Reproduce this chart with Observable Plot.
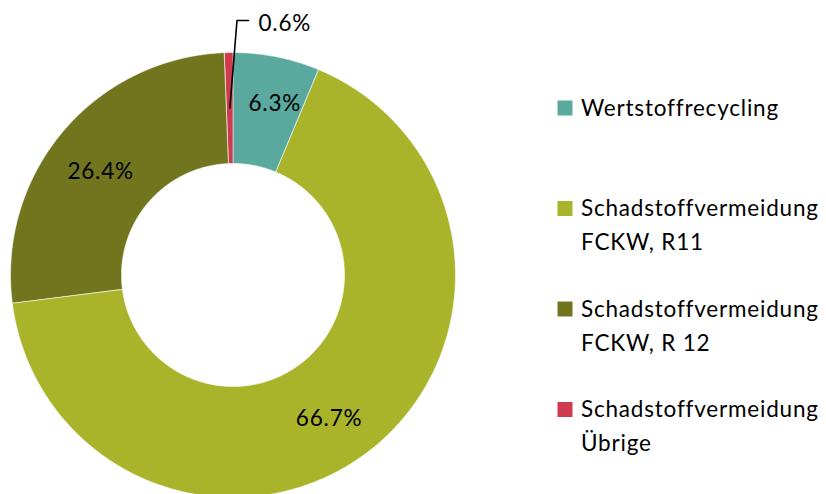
<!DOCTYPE html>
<html>
<head>
<meta charset="utf-8">
<script src="https://cdn.jsdelivr.net/npm/d3@7"></script>
<script src="https://cdn.jsdelivr.net/npm/@observablehq/plot@0.6"></script>
<style>
  html, body { margin: 0; padding: 0; background: #ffffff; }
  svg text { letter-spacing: 0.8px; }
</style>
</head>
<body>
<div id="chart"></div>
<script>
// ---- data ----
const categories = [
  "Wertstoffrecycling",
  "Schadstoffvermeidung\nFCKW, R11",
  "Schadstoffvermeidung\nFCKW, R 12",
  "Schadstoffvermeidung\nÜbrige"
];
const shares = [6.3, 66.7, 26.4, 0.6];
const valueLabels = ["6.3%", "66.7%", "26.4%", "0.6%"];
const colors = ["#5aa99f", "#a9b42b", "#71761e", "#d03a4f"];

// ---- layout ----
const W = 826, H = 494;
const cx = 232.5, cy = 274.5, R = 222.5, r0 = 111.5;
const FONT = "Lato";
const FS = 22.5;

// slices (angles clockwise from 12 o'clock)
const total = d3.sum(shares);
let acc = 0;
const slices = shares.map((v, i) => {
  const a0 = acc / total * 2 * Math.PI;
  acc += v;
  const a1 = acc / total * 2 * Math.PI;
  return {cat: categories[i], a0, a1, mid: (a0 + a1) / 2, label: valueLabels[i]};
});
const pt = (a, rad) => ({x: cx + rad * Math.sin(a), y: cy - rad * Math.cos(a)});

const polys = [];
for (const s of slices) {
  const n = Math.max(2, Math.ceil((s.a1 - s.a0) / (Math.PI / 360)));
  for (let k = 0; k <= n; k++) {
    const a = s.a0 + (s.a1 - s.a0) * k / n;
    polys.push({cat: s.cat, ...pt(a, R)});
  }
  for (let k = n; k >= 0; k--) {
    const a = s.a0 + (s.a1 - s.a0) * k / n;
    polys.push({cat: s.cat, ...pt(a, r0)});
  }
}

// in-ring labels (first three), nudges are layout tweaks
const nudge = [[9, -7], [-5, 11], [-5, 5]];
const inLabels = slices.slice(0, 3).map((s, i) => {
  const p = pt(s.mid, (R + r0) / 2);
  return {x: p.x + nudge[i][0], y: p.y + nudge[i][1], text: s.label};
});

// outside label with leader for the last (small) slice
const small = slices[3];
const leaderStart = pt(small.mid, (R + r0) / 2);
const leader = [leaderStart, {x: 236.5, y: 20}, {x: 248, y: 20}];
const outLabel = [{x: 258, y: 23.5, text: small.label}];

// legend
const legTop = 107.5, legStep = 100.5;
const legend = categories.map((c, i) => ({cat: c, x: 564.5, y: legTop + i * legStep, tx: 580.5, ty: legTop + i * legStep - 16.5}));

const plot = Plot.plot({
  width: W,
  height: H,
  margin: 0,
  style: {fontFamily: FONT, background: "#ffffff", color: "#000"},
  x: {domain: [0, W], range: [0, W], axis: null},
  y: {domain: [0, H], range: [0, H], axis: null},
  color: {domain: categories, range: colors},
  marks: [
    Plot.line(polys, {x: "x", y: "y", z: "cat", fill: "cat", stroke: "#ffffff", strokeWidth: 0.6, curve: "linear-closed"}),
    Plot.text(inLabels, {x: "x", y: "y", text: "text", fontSize: FS, fill: "#000", fontFamily: FONT}),
    Plot.line(leader, {x: "x", y: "y", stroke: "#000", strokeWidth: 1.6}),
    Plot.text(outLabel, {x: "x", y: "y", text: "text", fontSize: FS, fill: "#000", textAnchor: "start", fontFamily: FONT}),
    Plot.dot(legend, {x: "x", y: "y", fill: "cat", symbol: "square", r: 15 / Math.sqrt(Math.PI), stroke: null}),
    Plot.text(legend, {x: "tx", y: "ty", text: "cat", fontSize: FS, fill: "#000", textAnchor: "start", lineAnchor: "top", lineHeight: 34 / FS, fontFamily: FONT})
  ]
});
document.getElementById("chart").appendChild(plot);
</script>
</body>
</html>
